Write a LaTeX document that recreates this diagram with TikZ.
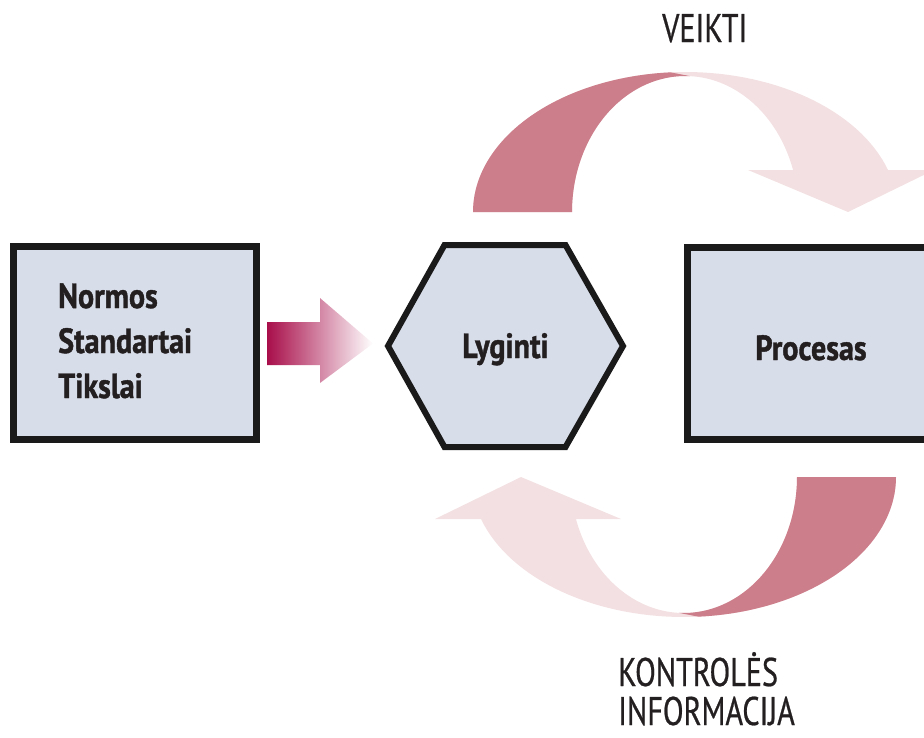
\documentclass[tikz,border=0pt]{standalone}
\usepackage{fontspec}
\setmainfont{PT Sans}
\newfontfamily\boxfont[FakeStretch=0.86, BoldFeatures={FakeBold=1.2}]{PT Sans}
\newfontfamily\capfont[FakeStretch=0.755, FakeBold=0.6]{PT Sans}

\definecolor{boxfill}{HTML}{D8DDEA}
\definecolor{boxline}{HTML}{1A1A1A}
\definecolor{arcdark}{HTML}{CD7E8B}
\definecolor{arclight}{HTML}{F3E0E2}
\definecolor{crimson}{HTML}{A80E4A}
\definecolor{inktext}{HTML}{231F20}

% one curved arrow: light body with head, dark leg in front
\newcommand\drawcrescent{%
  \fill[arclight] (473,212)
    -- plot[domain=180:17.46, samples=70, variable=\t] ({685.4+212.4*cos(\t)},{212-140*sin(\t)})
    -- (934,170) -- (848,212) -- (748,170)
    -- plot[domain=17.99:180, samples=70, variable=\t] ({685.3+113.3*cos(\t)},{212-136*sin(\t)})
    -- cycle;
  \fill[arcdark] (473,212)
    -- plot[domain=180:94, samples=50, variable=\t] ({685.4+212.4*cos(\t)},{212-140*sin(\t)})
    -- plot[domain=87.6:180, samples=50, variable=\t] ({685.3+113.3*cos(\t)},{212-136*sin(\t)})
    -- cycle;
}

\begin{document}
\begin{tikzpicture}[x=1pt,y=-1pt,
  frame/.style={draw=boxline, fill=boxfill, line width=7pt, line join=miter},
  boxlabel/.style={font=\boxfont\bfseries\fontsize{35}{42}\selectfont, text=inktext, inner sep=0pt},
  caplabel/.style={font=\capfont\fontsize{40}{46}\selectfont, text=inktext, inner sep=0pt}]
  \clip (0,0) rectangle (924,737);

  % curved arrows above and below the loop
  \drawcrescent
  \begin{scope}[rotate around={180:(684.5,344.5)}]
    \drawcrescent
  \end{scope}

  % boxes
  \draw[frame] (13.5,246.5) rectangle (256.5,439.5);
  \draw[frame] (687.5,247.5) rectangle (960,439.5);
  \draw[draw=boxline, fill=boxfill, line width=6pt, line join=miter]
    (444.5,245) -- (565.5,245) -- (623,346) -- (565.5,447) -- (444.5,447) -- (388,346) -- cycle;

  % input arrow
  \shade[left color=crimson, right color=white]
    (267,322) -- (320,322) -- (320,298) -- (373,343.5) -- (320,383) -- (320,365) -- (267,365) -- cycle;

  % labels
  \node[boxlabel, anchor=base west] (normos) at (58,308) {Normos};
  \node[boxlabel, anchor=base west] (standartai) at (58,353) {Standartai};
  \node[boxlabel, anchor=base west] (tikslai) at (58,398) {Tikslai};
  \node[boxlabel, anchor=base] (lyginti) at (505.5,358) {Lyginti};
  \node[boxlabel, anchor=base] (procesas) at (811,360) {Procesas};
  \node[caplabel, anchor=base west] (veikti) at (662,42) {VEIKTI};
  \node[caplabel, anchor=base west] (kontroles) at (618,686) {KONTROLĖS};
  \node[caplabel, anchor=base west] (informacija) at (618,725) {INFORMACIJA};
\end{tikzpicture}
\end{document}
